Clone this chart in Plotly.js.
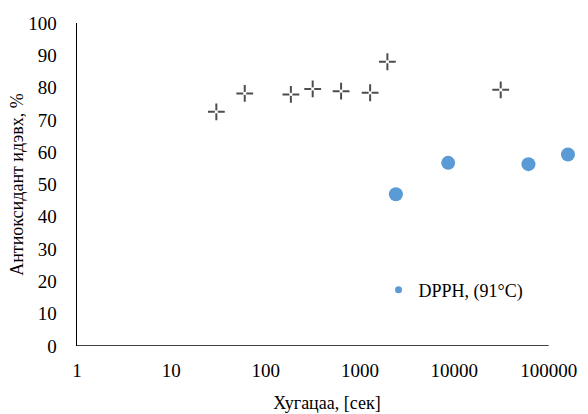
<!DOCTYPE html>
<html>
<head>
<meta charset="utf-8">
<script src="https://cdn.plot.ly/plotly-3.0.1.min.js"></script>
<style>html,body{margin:0;padding:0;background:#fff}#chart{width:588px;height:414px}</style>
</head>
<body>
<div id="chart"></div>
<script>
// Series 1 (unlabelled, grey crosses)
const crossTime = [30, 60, 185, 315, 630, 1280, 1950, 31000];
const crossValue = [72.5, 78.2, 77.9, 79.6, 78.9, 78.4, 88.0, 79.3];
// Series 2: DPPH, (91°C)
const dpphName = 'DPPH, (91°C)';
const dpphTime = [2400, 8600, 61000, 160000];
const dpphValue = [47.0, 56.7, 56.3, 59.3];
// Axis ticks
const xTickVals = [1, 10, 100, 1000, 10000, 100000];
const xTickText = ['1', '10', '100', '1000', '10000', '100000'];
const yTickVals = [0, 10, 20, 30, 40, 50, 60, 70, 80, 90, 100];
const xTitle = 'Хугацаа, [сек]';
const yTitle = 'Антиоксидант идэвх, %';

const font = 'Liberation Serif';

const traces = [
  {
    x: crossTime, y: crossValue, type: 'scatter', mode: 'markers',
    showlegend: false, hoverinfo: 'x+y',
    marker: {symbol: 'cross-thin-open', size: 12, color: '#4d4d4d', line: {width: 2, color: '#4d4d4d'}}
  },
  {
    x: crossTime, y: crossValue, type: 'scatter', mode: 'markers',
    showlegend: false, hoverinfo: 'skip',
    marker: {symbol: 'square', size: 3, color: '#ffffff', line: {width: 0}}
  },
  {
    x: dpphTime, y: dpphValue, type: 'scatter', mode: 'markers',
    name: dpphName, showlegend: false,
    marker: {symbol: 'circle', size: 14, color: '#5b9bd5'}
  },
  // legend entry (small marker as in the reference)
  {
    x: [null], y: [null], type: 'scatter', mode: 'markers',
    name: dpphName, showlegend: true,
    marker: {symbol: 'circle', size: 7, color: '#5b9bd5'}
  }
];

const layout = {
  width: 588, height: 414,
  margin: {l: 77, r: 11, t: 23, b: 68},
  paper_bgcolor: '#ffffff', plot_bgcolor: '#ffffff',
  font: {family: font, color: '#000000', size: 19},
  showlegend: true,
  legend: {
    x: 0.603, y: 0.173, xanchor: 'left', yanchor: 'middle',
    font: {family: font, size: 18, color: '#000'},
    bgcolor: 'rgba(0,0,0,0)', itemwidth: 30
  },
  xaxis: {
    type: 'log', range: [0, 5.3],
    tickvals: xTickVals, ticktext: xTickText,
    showgrid: false, zeroline: false, showline: false,
    ticks: 'outside', ticklen: 7, tickcolor: 'rgba(0,0,0,0)',
    tickfont: {family: font, size: 19, color: '#000'},
    title: {text: xTitle, font: {family: font, size: 18, color: '#000'}, standoff: 16}
  },
  yaxis: {
    range: [0, 100], tickvals: yTickVals,
    showgrid: false, zeroline: false,
    showline: true, linecolor: '#000', linewidth: 1.5,
    ticks: 'outside', ticklen: 15, tickcolor: 'rgba(0,0,0,0)',
    tickfont: {family: font, size: 19, color: '#000'},
    title: {text: yTitle, font: {family: font, size: 18, color: '#000'}, standoff: 0}
  },
  shapes: [
    {type: 'line', xref: 'x', yref: 'y',
     x0: xTickVals[0], x1: xTickVals[xTickVals.length - 1], y0: 0, y1: 0,
     line: {color: '#000', width: 1.5}}
  ]
};

Plotly.newPlot('chart', traces, layout, {displayModeBar: false, staticPlot: true});
</script>
</body>
</html>
